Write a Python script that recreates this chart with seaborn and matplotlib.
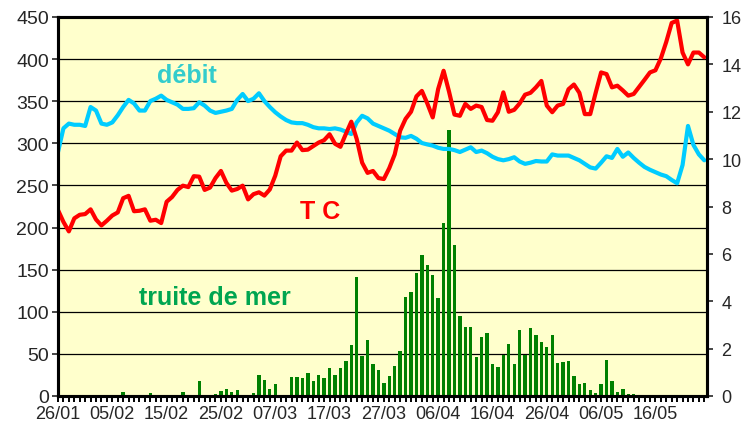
import numpy as np
import pandas as pd
import matplotlib
matplotlib.use("Agg")
import matplotlib.pyplot as plt
import seaborn as sns
from matplotlib.ticker import MultipleLocator

# débit (axe droit)
debit = [10.3, 11.3, 11.5, 11.45, 11.45, 11.4, 12.2, 12.05, 11.5, 11.45,
         11.55, 11.85, 12.2, 12.5, 12.35, 12.05, 12.05, 12.45, 12.55, 12.68,
         12.5, 12.4, 12.3, 12.12, 12.12, 12.15, 12.4, 12.26, 12.05, 11.95,
         12.0, 12.05, 12.12, 12.5, 12.75, 12.45, 12.55, 12.78, 12.45, 12.2,
         11.98, 11.8, 11.65, 11.55, 11.52, 11.52, 11.45, 11.35, 11.3, 11.3,
         11.27, 11.3, 11.25, 11.16, 11.06, 11.55, 11.83, 11.72, 11.5, 11.4,
         11.3, 11.2, 11.06, 10.92, 10.9, 10.98, 10.86, 10.68, 10.62, 10.57,
         10.48, 10.43, 10.43, 10.38, 10.3, 10.4, 10.5, 10.3, 10.36, 10.25,
         10.1, 10.0, 9.95, 10.0, 10.08, 9.9, 9.8, 9.85, 9.92, 9.9,
         9.9, 10.2, 10.15, 10.15, 10.15, 10.05, 9.95, 9.8, 9.65, 9.6,
         9.85, 10.12, 10.05, 10.43, 10.1, 10.28, 10.05, 9.85, 9.67, 9.55,
         9.45, 9.35, 9.28, 9.12, 8.98, 9.75, 11.4, 10.6, 10.2, 9.95]

# température (axe droit)
tc = [7.85, 7.35, 6.95, 7.5, 7.65, 7.68, 7.88, 7.45, 7.2, 7.4,
      7.62, 7.75, 8.35, 8.45, 7.8, 7.82, 7.88, 7.4, 7.44, 7.3,
      8.2, 8.4, 8.7, 8.88, 8.82, 9.28, 9.26, 8.7, 8.8, 9.2,
      9.5, 9.0, 8.67, 8.74, 8.88, 8.3, 8.52, 8.6, 8.46, 8.72,
      9.3, 10.12, 10.36, 10.36, 10.7, 10.38, 10.4, 10.55, 10.7, 10.8,
      11.05, 10.65, 10.52, 11.06, 11.58, 10.85, 9.85, 9.42, 9.5, 9.2,
      9.16, 9.62, 10.2, 11.2, 11.7, 12.0, 12.65, 12.88, 12.35, 11.76,
      12.96, 13.73, 12.85, 11.88, 11.83, 12.33, 12.12, 12.26, 12.2, 11.65,
      11.62, 11.98, 12.82, 12.0, 12.08, 12.35, 12.72, 12.8, 13.03, 13.3,
      12.26, 11.98, 12.26, 12.33, 12.95, 13.15, 12.8, 11.9, 11.9, 12.8,
      13.66, 13.59, 13.03, 13.1, 12.9, 12.68, 12.75, 13.05, 13.35, 13.66,
      13.75, 14.25, 14.95, 15.75, 15.85, 14.5, 14.0, 14.5, 14.5, 14.3]

# truite de mer (axe gauche)
truite = [0, 0, 1, 0, 0, 0, 0, 0, 0, 0,
          1, 0, 5, 0, 0, 0, 1, 4, 1, 0,
          0, 0, 1, 5, 0, 0, 18, 0, 0, 2,
          6, 8, 5, 7, 0, 0, 3, 25, 19, 8,
          14, 0, 0, 23, 22, 21, 27, 18, 25, 21,
          33, 25, 33, 42, 61, 141, 48, 67, 38, 31,
          15, 24, 36, 54, 118, 124, 146, 168, 156, 144,
          116, 205, 316, 179, 95, 82, 82, 46, 70, 75,
          38, 35, 49, 62, 38, 78, 49, 81, 73, 64,
          58, 73, 39, 40, 41, 24, 14, 15, 7, 3,
          14, 43, 18, 5, 8, 2, 2, 1, 1, 0.5,
          0.5, 0, 0, 0, 0, 0, 0, 0, 0, 0]

date_labels = ["26/01", "05/02", "15/02", "25/02", "07/03", "17/03",
               "27/03", "06/04", "16/04", "26/04", "06/05", "16/05"]

df = pd.DataFrame({"jour": np.arange(len(truite)), "truite": truite,
                   "debit": debit, "tc": tc})

sns.set_theme(style="ticks")
plt.rcParams["font.family"] = ["Liberation Sans", "DejaVu Sans"]

fig = plt.figure(figsize=(7.45, 4.27), dpi=100)
ax = fig.add_axes([58 / 745, 30 / 427, 649 / 745, 379 / 427])
ax.set_facecolor("#FFFFCC")
ax.yaxis.grid(True, color="black", lw=0.9)
ax.set_axisbelow(True)

sns.barplot(data=df, x="jour", y="truite", native_scale=True, width=0.62,
            color="#008000", saturation=1, errorbar=None, ax=ax,
            linewidth=0, zorder=2)

ax2 = ax.twinx()
sns.lineplot(data=df, x="jour", y="debit", color="#00CCFF", lw=3, ax=ax2)
sns.lineplot(data=df, x="jour", y="tc", color="#FF0000", lw=3, ax=ax2)

ax.set_xlim(0, 119.5)
ax.set_ylim(0, 450)
ax2.set_ylim(0, 16)
ax.set_yticks(range(0, 451, 50))
ax2.set_yticks(range(0, 17, 2))
ax.set_xticks(range(0, 120, 10))
ax.set_xticklabels(date_labels)
ax.xaxis.set_minor_locator(MultipleLocator(1))

for a in (ax, ax2):
    a.set_xlabel("")
    a.set_ylabel("")
    for s in a.spines.values():
        s.set_visible(True)
        s.set_color("black")
        s.set_linewidth(2.2)

ax.tick_params(axis="x", which="both", length=4.5, width=1.4, color="black",
               labelsize=13, pad=2)
ax.tick_params(axis="y", length=4.5, width=1.2, labelsize=14, pad=2)
ax2.tick_params(axis="y", length=4.5, width=1.2, labelsize=13, pad=6)

ax2.text(23.8, 373 * 16 / 450, "débit", color="#33CCCC", fontsize=18,
         fontweight="bold", ha="center", va="baseline")
ax2.text(48.3, 211 * 16 / 450, "T C", color="#FF0000", fontsize=18,
         fontweight="bold", ha="center", va="baseline")
ax2.text(28.9, 109 * 16 / 450, "truite de mer", color="#00A550", fontsize=18,
         fontweight="bold", ha="center", va="baseline")

fig.savefig("out.png", dpi=100, facecolor="white")
